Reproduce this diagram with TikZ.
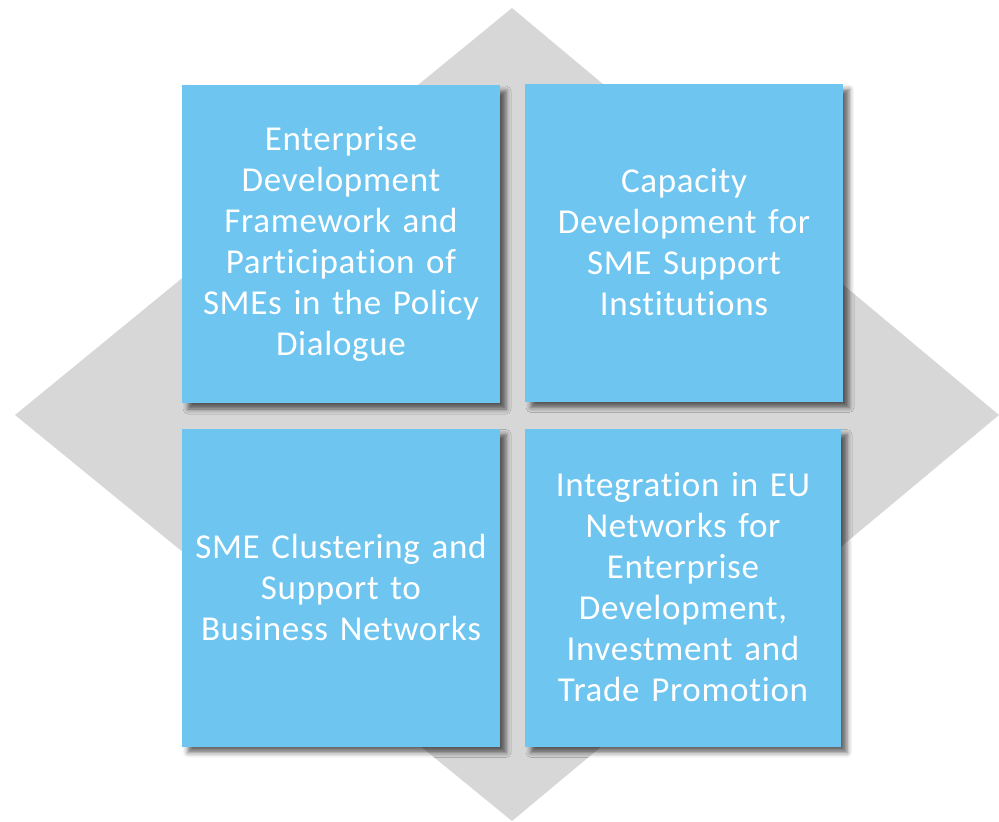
\documentclass[tikz,border=0pt]{standalone}
\usepackage{fontspec}
\setmainfont{Carlito}[LetterSpace=2,Ligatures=NoCommon]
\usepackage{tikz}
\usetikzlibrary{shadows.blur}
\definecolor{boxblue}{HTML}{6DC5F0}
\definecolor{diamondgray}{HTML}{D7D7D7}

\begin{document}
\begin{tikzpicture}[x=1pt,y=-1pt,
  box/.style={fill=boxblue,draw=none,minimum width=318pt,minimum height=318pt,
    text width=316pt,align=center,text=white,inner sep=0pt,
    font=\fontsize{35}{41}\selectfont,
    blur shadow={shadow xshift=6pt,shadow yshift=-6pt,shadow blur radius=5pt,shadow opacity=60}}]
\useasboundingbox (0,0) rectangle (999,822);
% background diamond
\fill[diamondgray] (512,8) -- (999,415) -- (512,821) -- (15,415) -- cycle;
% the four boxes
\node[box] (frame) at (341,244) {Enterprise\\Development\\Framework and\\Participation of\\SMEs in the Policy\\Dialogue};
\node[box] (capacity) at (684,242.5) {Capacity\\Development for\\SME Support\\Institutions};
\node[box] (cluster) at (341,587.5) {SME Clustering and\\Support to\\Business Networks};
\node[box,minimum width=316pt] (integr) at (683,587.5) {Integration in EU\\Networks for\\Enterprise\\Development,\\Investment and\\Trade Promotion};
\end{tikzpicture}
\end{document}
